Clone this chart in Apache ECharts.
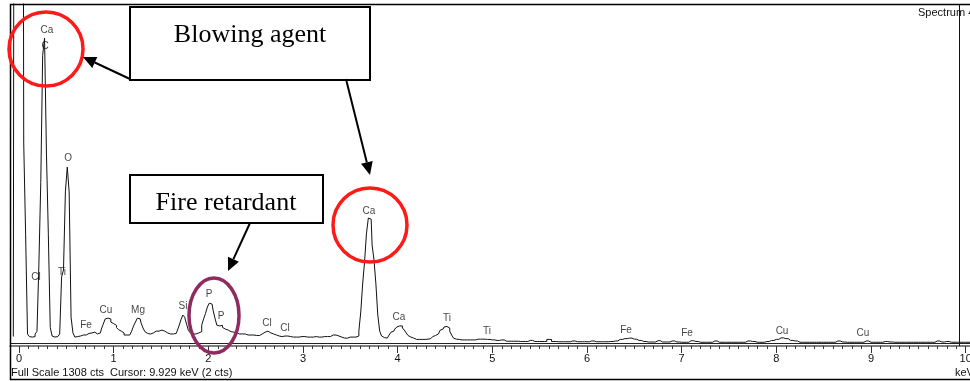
<!DOCTYPE html>
<html>
<head>
<meta charset="utf-8">
<script src="https://cdn.jsdelivr.net/npm/echarts@6/dist/echarts.min.js"></script>
<style>
  html, body { margin: 0; padding: 0; background: #fff; }
  #chart { width: 970px; height: 381px; }
</style>
</head>
<body>
<div id="chart"></div>
<script>
// EDS spectrum, counts per channel
// low range: channels from -0.06 keV every 0.02 keV (to 4.80)
const lowStart = -0.06, lowStep = 0.02;
const lowCounts = [
  25, 3000, 3000, 3000, 3000, 3000, 772, 420, 35, 25, 23, 25, 35, 45, 300, 620, 1110, 1177,
  733, 420, 60, 27, 23, 25, 27, 35, 255, 282, 583, 679, 583, 100, 39, 23, 25, 27,
  29, 31, 31, 35, 37, 39, 42, 42, 35, 39, 39, 54, 73, 93, 96, 93, 81, 75,
  68, 60, 52, 46, 39, 31, 31, 31, 37, 46, 66, 81, 96, 93, 77, 58, 44, 37, 35, 35, 39, 46, 50, 46, 50,
  50, 46, 39, 35, 35, 35, 35, 37, 46, 66, 89, 108, 100, 73, 48, 39, 35, 35, 35, 39, 44, 69, 93, 114, 139,
  154, 150, 127, 96, 69, 66, 68, 60, 54, 50, 46, 44, 42, 39, 39, 35, 35, 35, 35, 35, 31, 31, 31, 31, 29,
  27, 29, 35, 39, 42, 46, 42, 39, 35, 31, 31, 27, 27, 25, 27, 29, 27, 25, 23, 23, 23, 23, 23, 25, 23,
  25, 23, 25, 23, 23, 25, 25, 23, 23, 23, 25, 23, 25, 25, 29, 31, 31, 31, 27, 23, 21, 19, 19, 21, 23,
  23, 23, 23, 27, 46, 120, 228, 312, 421, 482, 478, 378, 320, 228, 108, 46, 27, 21, 19, 23, 31, 42, 46, 54, 62,
  66, 66, 58, 50, 39, 29, 23, 19, 15, 14, 14, 14, 14, 14, 14, 15, 17, 21, 25, 29, 35, 42, 50, 54, 62,
  64, 58, 46, 31, 19, 15, 14, 12, 12, 12, 10, 12, 12, 10, 12
];
// high range: channels from 4.85 keV every 0.05 keV (to 10.20)
const highStart = 4.85, highStep = 0.05;
const highCounts = [
  15, 15, 14, 12, 10, 12, 7, 7, 7, 6, 6, 10, 6, 6, 6, 14, 6, 5, 5, 5, 8, 5, 5, 5,
  8, 5, 5, 5, 6, 8, 14, 17, 19, 15, 10, 6, 4, 4, 9, 4, 4, 8, 4, 3,
  3, 9, 6, 3, 3, 3, 8, 3, 3, 3, 3, 3, 3, 8, 6, 3, 3, 6, 10, 14,
  20, 17, 10, 8, 3, 3, 3, 3, 3, 3, 3, 3, 8, 4, 3, 3, 3, 3, 8, 3,
  3, 3, 6, 4, 3, 3, 3, 3, 3, 3, 3, 3, 3, 8, 4, 6, 3, 3, 3, 3,
  3, 3, 3, 3
];

// element labels over the peaks
const peakNames = ['Ca', 'C', 'O', 'Cl', 'Ti', 'Fe', 'Cu', 'Mg', 'Si', 'P', 'P', 'Cl', 'Cl',
  'Ca', 'Ca', 'Ti', 'Ti', 'Fe', 'Fe', 'Cu', 'Cu'];
const peakKeV = [0.296, 0.275, 0.518, 0.18, 0.454, 0.708, 0.919, 1.257, 1.732, 2.007, 2.134, 2.62, 2.81,
  3.697, 4.014, 4.521, 4.943, 6.412, 7.056, 8.06, 8.915];
const peakLabelCts = [1208, 1146, 714, 255, 274, 69, 127, 127, 143, 189, 104, 77, 58,
  509, 100, 96, 46, 50, 39, 46, 39];

const majorTicks = [0, 1, 2, 3, 4, 5, 6, 7, 8, 9, 10];
const fullScale = 1308;
const cursorKeV = 9.929;
const footerText = 'Full Scale 1308 cts  Cursor: 9.929 keV (2 cts)';
const spectrumName = 'Spectrum 4';
const unitText = 'keV';
const boxTexts = ['Blowing agent', 'Fire retardant'];

const spectrum = [];
lowCounts.forEach((c, i) => spectrum.push([+(lowStart + i * lowStep).toFixed(2), c]));
highCounts.forEach((c, i) => spectrum.push([+(highStart + i * highStep).toFixed(2), c]));

const minorTicks = [];
for (let i = 0; i <= 100; i++) minorTicks.push(i / 10);

const labelPoints = peakNames.map((n, i) => ({ name: n, value: [peakKeV[i], peakLabelCts[i]] }));

const sans = 'Arial, "Liberation Sans", sans-serif';
const serif = '"Times New Roman", "Liberation Serif", serif';

function arrow(x1, y1, x2, y2) {
  const a = Math.atan2(y2 - y1, x2 - x1);
  const L = 13, W = 6;
  const bx = x2 - L * Math.cos(a), by = y2 - L * Math.sin(a);
  return [
    { type: 'line', z: 100, shape: { x1: x1, y1: y1, x2: bx, y2: by },
      style: { stroke: '#000', lineWidth: 2 } },
    { type: 'polygon', z: 100,
      shape: { points: [[x2, y2], [bx + W * Math.sin(a), by - W * Math.cos(a)], [bx - W * Math.sin(a), by + W * Math.cos(a)]] },
      style: { fill: '#000' } }
  ];
}

const chart = echarts.init(document.getElementById('chart'));
// grid spans x=10..970, 94.67 px per keV with 0 keV at x=19
const xMin = -0.095, xMax = -0.095 + 960 / 94.67;

const option = {
  animation: false,
  backgroundColor: '#fff',
  grid: { left: 10, top: 4, right: 0, height: 342, outerBoundsMode: 'none', containLabel: false },
  xAxis: [{
    type: 'value', min: xMin, max: xMax,
    axisLine: { onZero: false, lineStyle: { color: '#555', width: 1.5 } },
    axisTick: { customValues: majorTicks, length: 7, lineStyle: { color: '#333' } },
    axisLabel: { customValues: majorTicks, margin: 7, fontSize: 11, color: '#111', fontFamily: sans },
    splitLine: { show: false }
  }, {
    type: 'value', min: xMin, max: xMax, position: 'bottom',
    axisLine: { show: false, onZero: false },
    axisTick: { customValues: minorTicks, length: 3, lineStyle: { color: '#333' } },
    axisLabel: { show: false },
    splitLine: { show: false }
  }],
  yAxis: { type: 'value', min: -11.4, max: fullScale, show: false },
  series: [{
    type: 'scatter',
    data: labelPoints,
    symbolSize: 0,
    silent: true,
    z: 1,
    label: { show: true, position: 'inside', formatter: p => p.name, fontSize: 10, color: '#111', fontFamily: sans }
  }, {
    type: 'line',
    data: spectrum,
    step: 'middle',
    showSymbol: false,
    silent: true,
    z: 2,
    lineStyle: { color: '#111', width: 1 },
    markLine: {
      silent: true, symbol: ['none', 'none'], label: { show: false },
      data: [
        { yAxis: 0, lineStyle: { color: '#222', width: 1, type: 'solid' } },
        { xAxis: cursorKeV, lineStyle: { color: '#111', width: 1, type: 'solid' } }
      ]
    }
  }],
  graphic: [
    { type: 'rect', z: 90, shape: { x: 10.5, y: 4.5, width: 990, height: 375 },
      style: { fill: 'none', stroke: '#000', lineWidth: 1.5 } },
    { type: 'text', z: 100, style: { x: 918, y: 13, text: spectrumName, font: '11px ' + sans, fill: '#111', verticalAlign: 'middle' } },
    { type: 'text', z: 100, style: { x: 955, y: 373, text: unitText, font: '11px ' + sans, fill: '#111', verticalAlign: 'middle' } },
    { type: 'text', z: 100, style: { x: 11, y: 373, text: footerText, font: '11px ' + sans, fill: '#111', verticalAlign: 'middle' } },

    { type: 'rect', z: 100, shape: { x: 130, y: 7, width: 240, height: 73 },
      style: { fill: '#fff', stroke: '#000', lineWidth: 2 } },
    { type: 'text', z: 101, style: { x: 250, y: 35, text: boxTexts[0], font: '26px ' + serif, fill: '#000', align: 'center', verticalAlign: 'middle' } },
    { type: 'rect', z: 100, shape: { x: 130, y: 175, width: 193, height: 48 },
      style: { fill: '#fff', stroke: '#000', lineWidth: 2 } },
    { type: 'text', z: 101, style: { x: 226, y: 203, text: boxTexts[1], font: '26px ' + serif, fill: '#000', align: 'center', verticalAlign: 'middle' } },

    { type: 'circle', z: 100, shape: { cx: 46, cy: 49, r: 37 }, style: { fill: 'none', stroke: '#ff1a1a', lineWidth: 3.5 } },
    { type: 'circle', z: 100, shape: { cx: 370, cy: 225, r: 37 }, style: { fill: 'none', stroke: '#ff1a1a', lineWidth: 3.5 } },
    { type: 'ellipse', z: 100, shape: { cx: 214, cy: 315.5, rx: 25, ry: 37.5 }, style: { fill: 'none', stroke: '#8e2b61', lineWidth: 3.5 } },

    ...arrow(130, 79, 83, 57),
    ...arrow(346, 79, 370, 175),
    ...arrow(250, 223, 228, 271)
  ]
};

chart.setOption(option);
</script>
</body>
</html>
